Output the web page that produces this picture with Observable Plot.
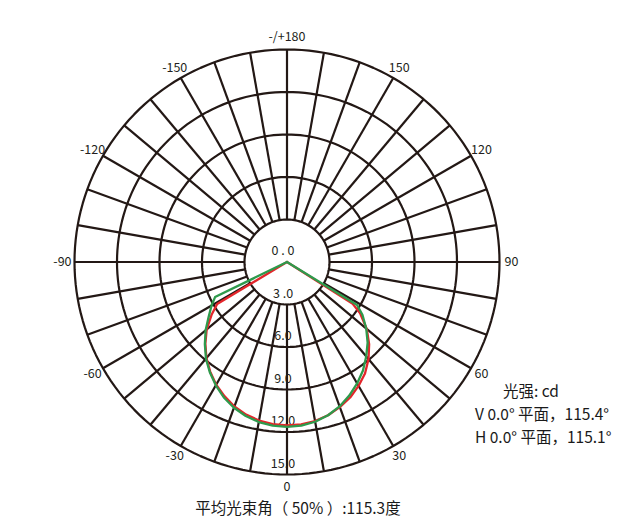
<!DOCTYPE html>
<html><head><meta charset="utf-8">
<script src="https://cdn.jsdelivr.net/npm/d3@7"></script>
<script src="https://cdn.jsdelivr.net/npm/@observablehq/plot@0.6"></script>
<style>
body{margin:0;background:#fff;font-family:"Noto Sans CJK SC","Noto Sans",sans-serif;}
#wrap{position:relative;width:631px;height:521px;overflow:hidden;}
#legend{position:absolute;left:475px;top:379px;font-size:15.5px;line-height:23px;color:#1a1a1a;white-space:nowrap;}
#caption{position:absolute;left:0;width:596px;top:500px;line-height:15px;text-align:center;font-size:15.5px;color:#1a1a1a;white-space:nowrap;}
</style></head><body><div id="wrap"></div>
<script>
// ---- data ----
const ringValues = [3, 6, 9, 12, 15];
const radialLabelValues = [0, 3, 6, 9, 12, 15];
const radialLabels = ["0 . 0", "3 .0", "6.0", "9.0", "12.0", "15.0"];
const spokeAngles = [-170,-160,-150,-140,-130,-120,-110,-100,-90,-80,-70,-60,-50,-40,-30,-20,-10,0,10,20,30,40,50,60,70,80,90,100,110,120,130,140,150,160,170,180];
const angleLabelAngles = [0, 30, 60, 90, 120, 150, 180, -150, -120, -90, -60, -30];
const angleLabels = ["0", "30", "60", "90", "120", "150", "-/+180", "-150", "-120", "-90", "-60", "-30"];
// V plane (red)
const vAngles = [-90, -59, -55, -50, -45, -40, -35, -30, -25, -20, -15, -10, -5, 0, 5, 10, 15, 20, 25, 30, 35, 40, 45, 50, 55, 57.5, 90];
const vValues = [0, 5.75, 6.5, 7.4, 8.15, 8.85, 9.45, 10.0, 10.45, 10.85, 11.15, 11.36, 11.49, 11.53, 11.5, 11.4, 11.2, 10.9, 10.55, 10.1, 9.6, 8.95, 8.2, 7.35, 6.3, 5.5, 0];
// H plane (green)
const hAngles = [-90, -64, -60, -55, -50, -45, -40, -35, -30, -25, -20, -15, -10, -5, 0, 5, 10, 15, 20, 25, 30, 35, 40, 45, 50, 55, 58.5, 90];
const hValues = [0, 5.65, 6.15, 6.75, 7.5, 8.2, 8.9, 9.5, 10.05, 10.55, 10.95, 11.25, 11.47, 11.6, 11.64, 11.6, 11.45, 11.2, 10.85, 10.4, 9.9, 9.35, 8.7, 8.05, 7.3, 6.5, 5.8, 0];
const legendLines = ["光强: cd", "V 0.0° 平面，115.4°", "H 0.0° 平面，115.1°"];
const captionText = "平均光束角（ 50% ）:115.3度";

// ---- helpers ----
const rad = d => d * Math.PI / 180;
const px = (a, r) => r * Math.sin(rad(a));
const py = (a, r) => -r * Math.cos(rad(a));
const circleSteps = d3.range(0, 361, 2);
const ringPts = ringValues.flatMap(r => circleSteps.map(a => ({r, a})));
const vData = vAngles.map((a, i) => ({a, r: vValues[i]}));
const hData = hAngles.map((a, i) => ({a, r: hValues[i]}));
const rLab = 15.85;
const grid = "#231815";

const chart = Plot.plot({
  width: 631, height: 521,
  marginLeft: 74, marginRight: 132, marginTop: 49, marginBottom: 47,
  x: {domain: [-15, 15], axis: null},
  y: {domain: [-15, 15], axis: null},
  style: {fontFamily: '"Noto Sans CJK SC","Noto Sans",sans-serif', background: "#fff"},
  marks: [
    Plot.line(ringPts, {x: d => px(d.a, d.r), y: d => py(d.a, d.r), z: "r", stroke: grid, strokeWidth: 2.2}),
    Plot.link(spokeAngles, {x1: a => px(a, 3), y1: a => py(a, 3), x2: a => px(a, 15), y2: a => py(a, 15), stroke: grid, strokeWidth: 2.2}),
    Plot.text(radialLabelValues, {x: 0, y: r => py(0, r), text: (r, i) => radialLabels[i], dx: -4, dy: -11, fontSize: 12.5, fill: "#231f20"}),
    Plot.text(angleLabelAngles, {x: a => px(a, rLab), y: a => py(a, rLab), text: (a, i) => angleLabels[i], fontSize: 12.5, fill: "#231f20"}),
    Plot.line(vData, {x: d => px(d.a, d.r), y: d => py(d.a, d.r), stroke: "#e3262b", strokeWidth: 2.3}),
    Plot.line(hData, {x: d => px(d.a, d.r), y: d => py(d.a, d.r), stroke: "#2e9a4c", strokeWidth: 2.3})
  ]
});
const wrap = document.getElementById("wrap");
wrap.appendChild(chart);
const legend = document.createElement("div");
legend.id = "legend";
legend.innerHTML = legendLines.map((t, i) => `<div style="padding-left:${i === 0 ? 28 : 0}px">${t}</div>`).join("");
wrap.appendChild(legend);
const cap = document.createElement("div");
cap.id = "caption";
cap.textContent = captionText;
wrap.appendChild(cap);
</script></body></html>
